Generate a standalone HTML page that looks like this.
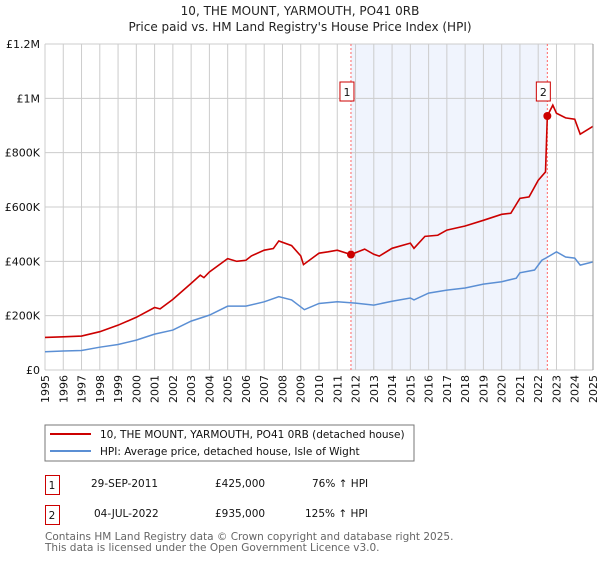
<!DOCTYPE html>
<html><head><meta charset="utf-8">
<style>
body{margin:0;background:#fff;font-family:"DejaVu Sans","Liberation Sans",sans-serif;}
svg text{font-family:"DejaVu Sans","Liberation Sans",sans-serif;}
</style></head>
<body>
<svg id="c" width="600" height="560" viewBox="0 0 600 560">
<text x="300" y="15" text-anchor="middle" font-size="12" fill="#222">10, THE MOUNT, YARMOUTH, PO41 0RB</text>
<text x="300" y="31" text-anchor="middle" font-size="12" fill="#222">Price paid vs. HM Land Registry's House Price Index (HPI)</text>
<g id="plot"></g>
<rect x="45" y="425" width="369" height="36" fill="#fff" stroke="#777"/>
<line x1="50" y1="434" x2="91" y2="434" stroke="#cc0000" stroke-width="2"/>
<text x="100" y="438" font-size="10.5" fill="#111">10, THE MOUNT, YARMOUTH, PO41 0RB (detached house)</text>
<line x1="50" y1="451" x2="91" y2="451" stroke="#5b8fd4" stroke-width="2"/>
<text x="100" y="455" font-size="10.5" fill="#111">HPI: Average price, detached house, Isle of Wight</text>
<g font-size="10.5" fill="#111">
<rect x="45.5" y="475.5" width="14" height="19" fill="none" stroke="#cc0000"/>
<text x="52" y="489" text-anchor="middle">1</text>
<text x="91" y="487">29-SEP-2011</text>
<text x="215" y="487">£425,000</text>
<text x="312" y="487">76% ↑ HPI</text>
<rect x="45.5" y="505.5" width="14" height="19" fill="none" stroke="#cc0000"/>
<text x="52" y="519" text-anchor="middle">2</text>
<text x="94" y="517">04-JUL-2022</text>
<text x="215" y="517">£935,000</text>
<text x="305" y="517">125% ↑ HPI</text>
</g>
<text x="45" y="540" font-size="10.5" fill="#666">Contains HM Land Registry data © Crown copyright and database right 2025.</text>
<text x="45" y="551" font-size="10.5" fill="#666">This data is licensed under the Open Government Licence v3.0.</text>
</svg>
<script>
const yearTicks=[1995,1996,1997,1998,1999,2000,2001,2002,2003,2004,2005,2006,2007,2008,2009,2010,2011,2012,2013,2014,2015,2016,2017,2018,2019,2020,2021,2022,2023,2024,2025];
const valueTicks=[0,200000,400000,600000,800000,1000000,1200000];
const valueTickLabels=["£0","£200K","£400K","£600K","£800K","£1M","£1.2M"];
const hpiDates=[1995,1996,1997,1998,1999,2000,2001,2002,2003,2004,2005,2006,2007,2007.8,2008.5,2009.2,2010,2011,2012,2013,2014,2015,2015.2,2016,2017,2018,2019,2020,2020.8,2021,2021.8,2022.2,2022.5,2023,2023.5,2024,2024.3,2025];
const hpiValues=[67000,70000,72000,84000,94000,110000,132000,147000,180000,202000,235000,235000,251000,270000,258000,222000,245000,251000,246000,239000,253000,265000,258000,283000,294000,302000,316000,325000,338000,358000,368000,404000,415000,435000,416000,412000,386000,398000];
const priceDates=[1995,1996,1997,1998,1999,2000,2001,2001.3,2002,2003,2003.5,2003.7,2004,2005,2005.5,2006,2006.3,2007,2007.5,2007.8,2008.5,2009,2009.15,2010,2010.5,2011,2011.75,2012.5,2013,2013.3,2014,2015,2015.2,2015.8,2016.5,2017,2018,2019,2020,2020.5,2021,2021.5,2022,2022.4,2022.5,2022.8,2023,2023.5,2024,2024.3,2025];
const priceValues=[120000,122000,125000,141000,165000,194000,230000,225000,260000,319000,349000,340000,361000,410000,400000,404000,420000,441000,447000,475000,458000,420000,388000,430000,435000,441000,425000,445000,426000,419000,448000,467000,448000,492000,496000,515000,530000,551000,573000,577000,632000,637000,698000,729000,935000,975000,945000,928000,923000,868000,897000];
const saleDates=[2011.75,2022.5];
const saleValues=[425000,935000];
const saleLabels=["1","2"];

const NS="http://www.w3.org/2000/svg";
const L=45,R=593,T=44,B=370;
const x=d=>L+(d-1995)/30*(R-L);
const y=v=>B-v/1200000*(B-T);
const g=document.getElementById('plot');
function mk(tag,attrs){const e=document.createElementNS(NS,tag);for(const k in attrs)e.setAttribute(k,attrs[k]);g.appendChild(e);return e;}
let e=mk('rect',{x:x(saleDates[0]),y:T,width:x(saleDates[1])-x(saleDates[0]),height:B-T,fill:'#f0f4fd'});


yearTicks.forEach(t=>{const l=mk('line',{x1:x(t),x2:x(t),y1:T,y2:B,stroke:'#cccccc','stroke-width':1});


const tx=mk('text',{x:0,y:0,'font-size':11,fill:'#111','text-anchor':'end',transform:`translate(${x(t)+4},${B+5}) rotate(-90)`});tx.textContent=t;

});
valueTicks.forEach((v,i)=>{const l=mk('line',{x1:L,x2:R,y1:y(v),y2:y(v),stroke:'#cccccc','stroke-width':1});


const tx=mk('text',{x:40,y:y(v)+4,'font-size':11,fill:'#111','text-anchor':'end'});tx.textContent=valueTickLabels[i];

});
saleDates.forEach((d,i)=>{const l=mk('line',{x1:x(d),x2:x(d),y1:T,y2:B,stroke:'#ff6666','stroke-dasharray':'2,2','stroke-width':1});

});
e=mk('polyline',{points:hpiDates.map((d,i)=>x(d)+','+y(hpiValues[i])).join(' '),fill:'none',stroke:'#5b8fd4','stroke-width':1.5});


e=mk('polyline',{points:priceDates.map((d,i)=>x(d)+','+y(priceValues[i])).join(' '),fill:'none',stroke:'#cc0000','stroke-width':1.6});


saleDates.forEach((d,i)=>{const c=mk('circle',{cx:x(d),cy:y(saleValues[i]),r:4,fill:'#cc0000'});


const bx=mk('rect',{x:x(d)-11,y:82,width:14,height:19,fill:'#fff',stroke:'#cc0000'});


const t=mk('text',{x:x(d)-4,y:96,'font-size':11,fill:'#111','text-anchor':'middle'});t.textContent=saleLabels[i];

});
e=mk('line',{x1:R,x2:R,y1:T,y2:B,stroke:'#999','stroke-width':1});


</script>
</body></html>
